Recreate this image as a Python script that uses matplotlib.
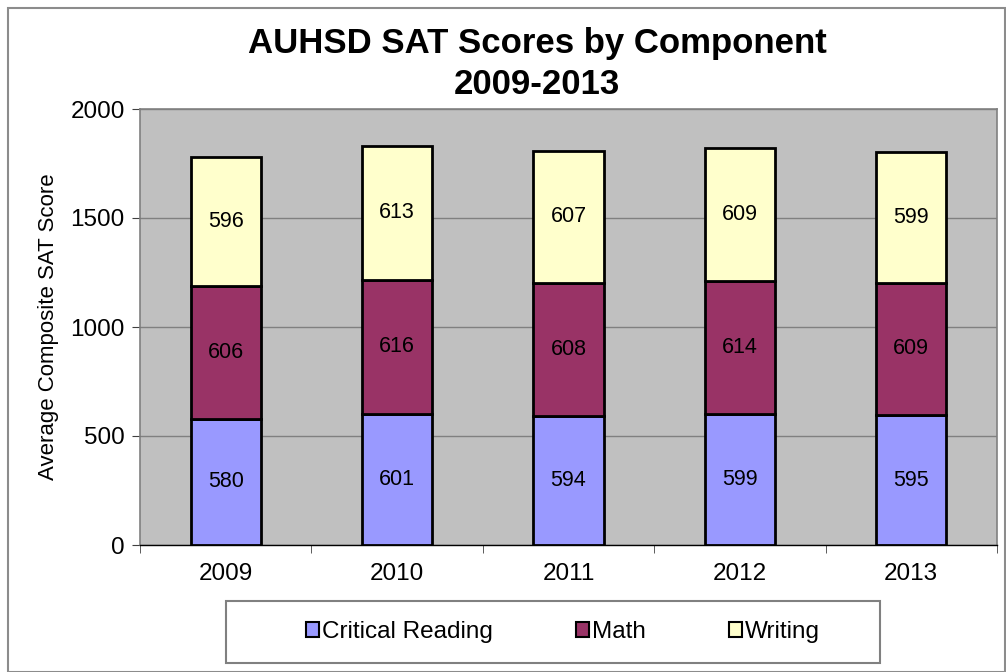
#!/usr/bin/env python3
# AUHSD SAT scores stacked bar chart

import numpy as np
import matplotlib.pyplot as plt
from matplotlib.patches import Rectangle

plt.rcParams['font.family'] = ['Liberation Sans', 'DejaVu Sans']

years = ['2009', '2010', '2011', '2012', '2013']
reading = [580, 601, 594, 599, 595]
math = [606, 616, 608, 614, 609]
writing = [596, 613, 607, 609, 599]

W, H = 1006, 672
fig = plt.figure(figsize=(W / 100, H / 100), dpi=100)
ax = fig.add_axes([140 / W, 1 - 545 / H, 857 / W, 436 / H])
ax.set_facecolor('#C0C0C0')

x = np.arange(len(years))
w = 0.41
series = [('Critical Reading', reading, '#9999FF'),
          ('Math', math, '#993366'),
          ('Writing', writing, '#FFFFCC')]
bottom = np.zeros(len(years))
for name, vals, col in series:
    bars = ax.bar(x, vals, w, bottom=bottom, color=col, edgecolor='black',
                  linewidth=2, label=name, zorder=3)
    ax.bar_label(bars, labels=[str(v) for v in vals], label_type='center',
                 fontsize=15.5, color='black')
    bottom += np.array(vals)

ax.set_xlim(-0.5, len(years) - 0.5)
ax.set_ylim(0, 2000)
ax.set_yticks([0, 500, 1000, 1500, 2000])
ax.set_xticks(x)
ax.set_xticklabels(years)
ax.set_xticks(np.arange(-0.5, len(years)), minor=True)
ax.tick_params(axis='x', which='major', length=0, labelsize=17.5, pad=13)
ax.tick_params(axis='x', which='minor', length=6, color='#404040')
ax.tick_params(axis='y', labelsize=17.5, length=6, color='#404040', pad=5)
ax.yaxis.grid(True, color='#808080', linewidth=1, zorder=0)
ax.set_axisbelow(True)
for side in ['left', 'top', 'right']:
    ax.spines[side].set_color('#808080')
    ax.spines[side].set_linewidth(1.2)
ax.spines['bottom'].set_color('black')
ax.spines['bottom'].set_linewidth(1)

ax.set_ylabel('Average Composite SAT Score', fontsize=16, labelpad=8)

fig.text(537 / W, 1 - 64 / H, 'AUHSD SAT Scores by Component\n2009-2013',
         ha='center', va='center', fontsize=25, fontweight='bold',
         linespacing=1.28)

# legend box drawn by hand so it can be wider than its content
fig.patches.append(Rectangle((226 / W, 1 - 663 / H), 654 / W, 62 / H,
                             transform=fig.transFigure, fill=True,
                             facecolor='white', edgecolor='#808080',
                             linewidth=1.5, zorder=1))
leg = fig.legend(loc='center', bbox_to_anchor=(563 / W, 1 - 632 / H),
                 ncol=3, fontsize=17.5, frameon=False,
                 handlelength=0.55, handleheight=0.55,
                 handletextpad=0.12, columnspacing=3.4, borderaxespad=0)
for h in leg.legend_handles:
    h.set_linewidth(1.5)
    h.set_edgecolor('black')

fig.patches.append(Rectangle((8 / W, 0), 1 - 9 / W, 1 - 8 / H,
                             transform=fig.transFigure, fill=False,
                             edgecolor='#8C8C8C', linewidth=1.5))

fig.savefig('out.png', dpi=100)
